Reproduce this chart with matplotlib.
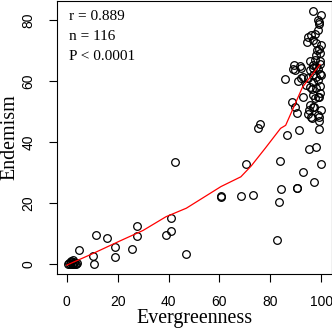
import numpy as np
import matplotlib
matplotlib.use("Agg")
import matplotlib.pyplot as plt

# evergreenness (%) vs endemism (%)
evergreen = [0.5, 1.0, 1.5, 2.0, 2.3, 2.8, 3.3, 4.0, 1.8, 2.5, 3.0, 1.2, 3.6,
             4.9, 10.5, 10.9, 11.6, 15.8, 18.9, 19.1, 25.8, 27.5, 27.8,
             39.0, 41.0, 41.0, 42.7, 46.9,
             60.6, 60.7, 68.4, 73.1, 70.5, 75.0, 75.8, 82.5, 83.2, 84.1,
             90.4, 90.6, 93.0, 97.2, 99.8, 83.7, 86.5, 91.3, 95.3, 97.8, 99.1,
             88.4, 89.6, 90.6, 93.0, 85.8, 90.9, 92.2, 92.9, 94.8, 96.8, 98.7,
             89.2, 89.0, 89.6, 91.6, 92.2, 95.5, 97.5, 99.4, 96.8, 98.1,
             95.5, 96.8, 98.7, 99.4, 96.8, 95.5, 98.1, 99.4, 98.7, 96.8, 97.5,
             95.5, 96.8, 95.2, 94.8, 95.8, 98.7, 99.2, 96.2, 93.9, 96.3,
             94.2, 94.8, 96.1, 97.5, 96.8, 98.1, 99.7, 99.2, 98.4, 99.4,
             98.7, 99.0, 99.2, 98.7, 99.8, 96.8, 99.1, 99.8, 97.2, 99.6, 99.0,
             97.8, 99.5, 100.0, 98.0]
endemism = [0.0, 0.3, 1.0, 0.0, 1.3, 0.5, 0.0, 0.2, 0.5, 0.0, 0.3, 0.0, 0.0,
            4.6, 2.6, 0.0, 9.6, 8.5, 5.4, 2.2, 4.8, 9.2, 12.5,
            9.4, 10.7, 15.0, 33.3, 3.4,
            22.0, 22.2, 22.2, 22.6, 32.8, 44.5, 46.0, 7.8, 20.2, 24.5,
            24.9, 25.0, 30.3, 26.9, 32.8, 33.8, 42.4, 43.8, 37.6, 38.5, 44.2,
            53.3, 51.6, 49.7, 54.9, 60.6, 60.2, 60.9, 61.4, 60.9, 59.8, 60.3,
            65.2, 64.0, 63.6, 64.9, 64.4, 66.7, 67.1, 66.7, 65.4, 64.7,
            63.6, 64.2, 64.0, 62.5, 62.0, 58.1, 57.6, 56.0, 54.9, 55.4, 54.5,
            52.1, 51.5, 50.5, 49.1, 48.3, 48.9, 48.3, 47.8, 58.7, 57.3,
            72.9, 74.5, 75.1, 75.6, 73.4, 72.4, 71.8, 70.7, 70.2, 69.1,
            76.7, 78.7, 79.5, 80.2, 81.6, 83.1, 54.8, 62.0, 51.5, 58.5, 47.0,
            61.5, 65.5, 50.5, 68.5]

# smooth (lowess) curve
fit_x = [0, 10, 20, 30, 39, 47, 60.6, 68.4, 72.5, 78, 84, 86, 92.6, 99.5]
fit_y = [-0.4, 3.3, 7.2, 11.0, 15.5, 18.3, 25.4, 28.6, 32.2, 38.0, 44.5, 45.5, 58.0, 65.5]

W, H = 332, 333
fig = plt.figure(figsize=(W / 100, H / 100), dpi=100)
ax = fig.add_axes([56.5 / W, (H - 274) / H, 275 / W, 273 / H])

ax.plot(evergreen, endemism, 'o', mfc='none', mec='black', ms=5.5, mew=0.9)
ax.plot(fit_x, fit_y, color='red', lw=0.9)

ax.set_xlim(-4, 104)
ax.set_ylim(-3.3, 86.3)
ax.set_xticks([0, 20, 40, 60, 80, 100])
ax.set_yticks([0, 20, 40, 60, 80])
ax.tick_params(direction='out', length=6, width=0.8, pad=9, labelsize=10)
for lab in ax.get_xticklabels() + ax.get_yticklabels():
    lab.set_family('Liberation Sans')
plt.setp(ax.get_yticklabels(), rotation=90, va='center')
for s in ax.spines.values():
    s.set_linewidth(0.8)

ax.set_xlabel('Evergreenness', family='Liberation Serif', fontsize=14.4)
ax.xaxis.set_label_coords(0.5, -(323 - 274) / 273)
ax.xaxis.label.set_va('baseline')
ax.set_ylabel('Endemism', family='Liberation Serif', fontsize=14.4)
ax.yaxis.set_label_coords(-(56.5 - 10) / 275, 0.5)
ax.yaxis.label.set_va('center')

for i, t in enumerate(['r = 0.889', 'n = 116', 'P < 0.0001']):
    fig.text(69 / W, 1 - (20 + 20 * i) / H, t, family='Liberation Serif', fontsize=11, va='baseline')

fig.savefig('out.png', dpi=100)
